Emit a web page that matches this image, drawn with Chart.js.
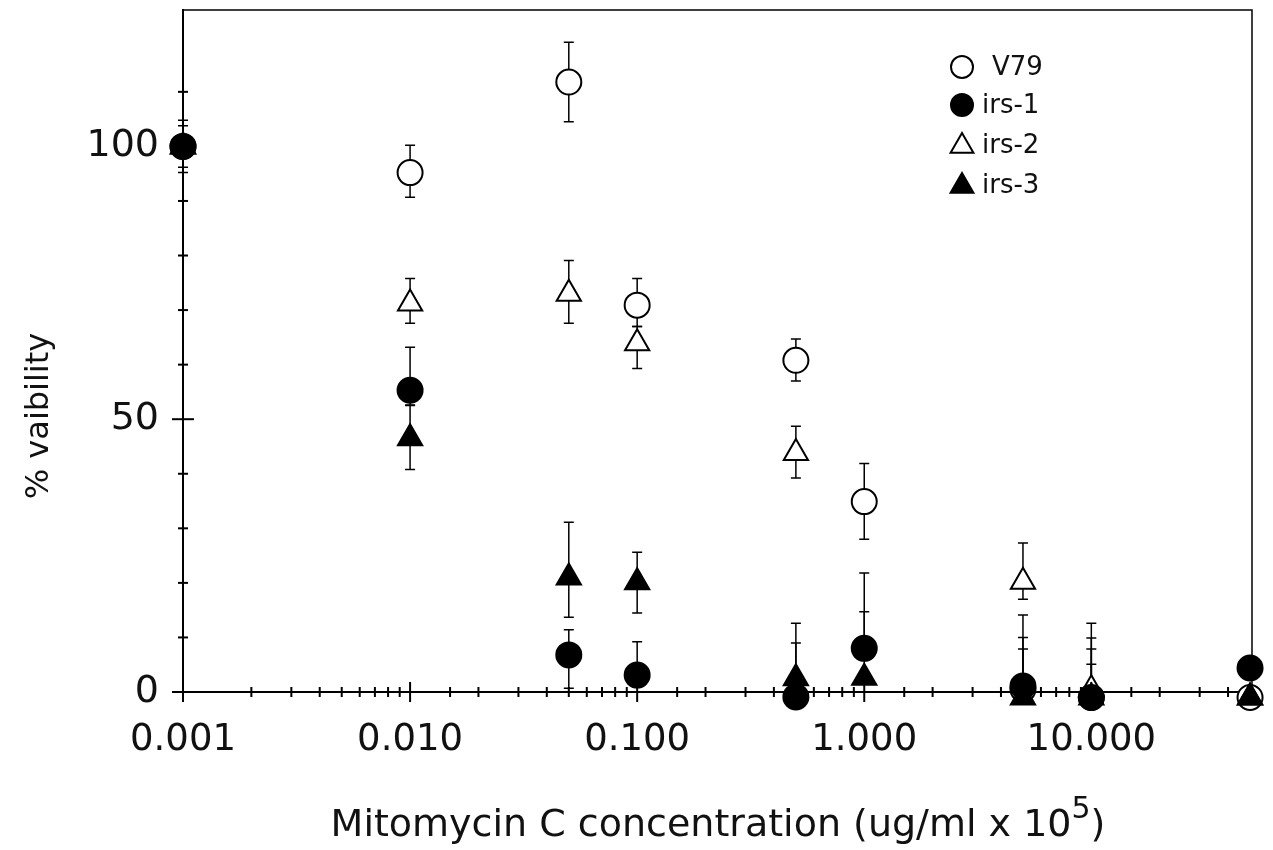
<!DOCTYPE html>
<html>
<head>
<meta charset="utf-8">
<script src="https://cdn.jsdelivr.net/npm/chart.js@4.4.1/dist/chart.umd.min.js"></script>
<style>
  html, body { margin: 0; padding: 0; background: #fff; }
  #wrap { width: 1273px; height: 850px; }
</style>
</head>
<body>
<div id="wrap"><canvas id="chart" width="1273" height="850"></canvas></div>
<script>
// concentrations (ug/ml x 10^5)
const concentrations = [0.001, 0.01, 0.05, 0.1, 0.5, 1, 5, 10, 50];
const seriesNames = ['V79', 'irs-1', 'irs-2', 'irs-3'];

// % viability
const v79  = [100, 95.2, 111.8, 70.9, 60.8, 34.9, 0.5, -1, -1];
const irs1 = [100, 55.3, 6.8, 3.1, -0.9, 8, 1.1, -1, 4.4];
const irs2 = [100, 71.2, 73, 63.9, 43.8, null, 20.2, 0.5, -1];
const irs3 = [100, 46.5, 21, 20.1, 2.5, 2.6, -1, -1, -1];

// error bar ends (null = none visible)
const v79Hi  = [104.8, 100.2, 119.1, 75.8, 64.7, 41.9, 14.1, 12.6, null];
const v79Lo  = [95.2, 90.7, 104.5, 67, 57, 28, null, null, null];
const irs1Hi = [103.8, 63.2, 11.4, 9.2, 9, 21.8, 10, 9.9, null];
const irs1Lo = [96.2, 52.6, 0.7, null, null, null, null, null, null];
const irs2Hi = [null, 75.8, 79.1, 67, 48.7, null, 27.3, 7.9, null];
const irs2Lo = [null, 67.6, 67.6, 59.3, 39.2, null, 17, null, null];
const irs3Hi = [null, 52.5, 31.1, 25.6, 12.6, 14.7, 7.9, 5.1, null];
const irs3Lo = [null, 40.8, 13.7, 14.5, null, null, null, null, null];

const yLabels = [0, 50, 100];
const xLabels = [0.001, 0.01, 0.1, 1, 10];
const yTitle = '% vaibility';
const xTitle = 'Mitomycin C concentration (ug/ml x 10';
const xTitleSup = '5';

const FONT = 'DejaVu Sans';
const INK = '#111';

function points(values) {
    return concentrations.map((c, i) => ({ x: c, y: values[i] }))
        .filter(p => p.y !== null);
}

function makeSet(name, values, hi, lo, style, filled, order) {
    return {
        label: name,
        data: points(values),
        errHi: hi,
        errLo: lo,
        raw: values,
        pointStyle: style,
        pointRadius: style === 'triangle' ? 14 : 12.5,
        pointHoverRadius: style === 'triangle' ? 14 : 12.5,
        pointBackgroundColor: filled ? '#000' : '#fff',
        pointBorderColor: '#000',
        pointBorderWidth: 2,
        showLine: false,
        clip: false,
        order: order
    };
}

// error bars under the markers
const errorBars = {
    id: 'errorBars',
    beforeDatasetsDraw(chart) {
        const ctx = chart.ctx;
        const xs = chart.scales.x, ys = chart.scales.y;
        ctx.save();
        ctx.strokeStyle = '#000';
        ctx.lineWidth = 1.5;
        chart.data.datasets.forEach(ds => {
            concentrations.forEach((c, i) => {
                const v = ds.raw[i];
                if (v === null) return;
                const px = xs.getPixelForValue(c);
                const py = ys.getPixelForValue(v);
                [ds.errHi[i], ds.errLo[i]].forEach(e => {
                    if (e === null) return;
                    const ey = ys.getPixelForValue(e);
                    ctx.beginPath();
                    ctx.moveTo(px, py);
                    ctx.lineTo(px, ey);
                    ctx.moveTo(px - 5, ey);
                    ctx.lineTo(px + 5, ey);
                    ctx.stroke();
                });
            });
        });
        ctx.restore();
    }
};

// ticks crossing the axes, frame, titles and legend
const axisDecor = {
    id: 'axisDecor',
    afterDraw(chart) {
        const ctx = chart.ctx;
        const area = chart.chartArea;
        const xs = chart.scales.x, ys = chart.scales.y;
        ctx.save();
        ctx.strokeStyle = '#000';
        ctx.lineWidth = 1.5;
        ctx.beginPath();
        ctx.moveTo(area.left, area.top);
        ctx.lineTo(area.right, area.top);
        ctx.lineTo(area.right, area.bottom);
        ctx.stroke();

        ctx.lineWidth = 2;
        ys.ticks.forEach(t => {
            if (t.value > 120) return;
            const py = ys.getPixelForValue(t.value);
            const len = yLabels.includes(t.value) ? 11 : 5;
            ctx.beginPath();
            ctx.moveTo(area.left - len, py);
            ctx.lineTo(area.left + len, py);
            ctx.stroke();
        });
        xs.ticks.forEach(t => {
            if (t.value > 50) return;
            const px = xs.getPixelForValue(t.value);
            const lg = Math.log10(t.value);
            const major = Math.abs(lg - Math.round(lg)) < 1e-6;
            const len = major ? 10 : 5;
            ctx.beginPath();
            ctx.moveTo(px, area.bottom - len);
            ctx.lineTo(px, area.bottom + len);
            ctx.stroke();
        });

        // axis titles
        ctx.fillStyle = INK;
        ctx.textBaseline = 'middle';
        ctx.textAlign = 'center';
        ctx.save();
        ctx.translate(40, 416);
        ctx.rotate(-Math.PI / 2);
        ctx.font = '32px "' + FONT + '"';
        ctx.fillText(yTitle, 0, 0);
        ctx.restore();

        ctx.textAlign = 'left';
        ctx.textBaseline = 'alphabetic';
        ctx.font = '38px "' + FONT + '"';
        const w1 = ctx.measureText(xTitle).width;
        const wp = ctx.measureText(')').width;
        ctx.font = '30px "' + FONT + '"';
        const w2 = ctx.measureText(xTitleSup).width;
        let tx = 718 - (w1 + w2 + wp) / 2;
        ctx.font = '38px "' + FONT + '"';
        ctx.fillText(xTitle, tx, 836);
        ctx.font = '30px "' + FONT + '"';
        ctx.fillText(xTitleSup, tx + w1, 818);
        ctx.font = '38px "' + FONT + '"';
        ctx.fillText(')', tx + w1 + w2, 836);

        // legend
        const lx = 962, rows = [67, 105, 145, 185];
        ctx.font = '26px "' + FONT + '"';
        ctx.textBaseline = 'middle';
        chart.data.datasets.forEach((ds, i) => {
            const y = rows[i];
            ctx.lineWidth = 2;
            ctx.fillStyle = ds.pointBackgroundColor;
            ctx.beginPath();
            if (ds.pointStyle === 'triangle') {
                const r = 12;
                ctx.moveTo(lx, y - r);
                ctx.lineTo(lx + r * 0.95, y + r * 0.65);
                ctx.lineTo(lx - r * 0.95, y + r * 0.65);
                ctx.closePath();
            } else {
                ctx.arc(lx, y, 11, 0, Math.PI * 2);
            }
            ctx.fill();
            ctx.stroke();
            ctx.fillStyle = INK;
            ctx.fillText(ds.label, i === 0 ? 992 : 982, y + 1);
        });
        ctx.restore();
    }
};

const datasets = [
    makeSet(seriesNames[0], v79, v79Hi, v79Lo, 'circle', false, 3),
    makeSet(seriesNames[1], irs1, irs1Hi, irs1Lo, 'circle', true, 0),
    makeSet(seriesNames[2], irs2, irs2Hi, irs2Lo, 'triangle', false, 2),
    makeSet(seriesNames[3], irs3, irs3Hi, irs3Lo, 'triangle', true, 1)
];

new Chart(document.getElementById('chart'), {
    type: 'scatter',
    data: { datasets: datasets },
    options: {
        responsive: false,
        devicePixelRatio: 1,
        animation: false,
        layout: { autoPadding: false, padding: { top: 10, right: 21, left: 0, bottom: 0 } },
        plugins: { legend: { display: false }, tooltip: { enabled: false } },
        scales: {
            x: {
                type: 'logarithmic',
                min: 0.001,
                max: 51,
                afterFit: s => {
                    s.height = 158;
                    s.paddingLeft = 0; s.paddingRight = 0;
                    s.paddingTop = 0; s.paddingBottom = 0;
                },
                grid: { display: false, drawTicks: false },
                border: { display: true, color: '#000', width: 2 },
                ticks: {
                    autoSkip: false,
                    maxRotation: 0,
                    padding: 26,
                    color: INK,
                    font: { family: FONT, size: 37 },
                    callback: v => {
                        const hit = xLabels.find(l => Math.abs(l - v) / l < 1e-6);
                        return hit !== undefined ? hit.toFixed(3) : '';
                    }
                },
                title: { display: false }
            },
            y: {
                min: 0,
                max: 125,
                afterFit: s => {
                    s.width = 183;
                    s.paddingLeft = 0; s.paddingRight = 0;
                    s.paddingTop = 0; s.paddingBottom = 0;
                },
                grid: { display: false, drawTicks: false },
                border: { display: true, color: '#000', width: 2 },
                ticks: {
                    stepSize: 10,
                    autoSkip: false,
                    padding: 24,
                    color: INK,
                    font: { family: FONT, size: 38 },
                    callback: v => yLabels.includes(v) ? String(v) : ''
                },
                title: { display: false }
            }
        }
    },
    plugins: [errorBars, axisDecor]
});
</script>
</body>
</html>
